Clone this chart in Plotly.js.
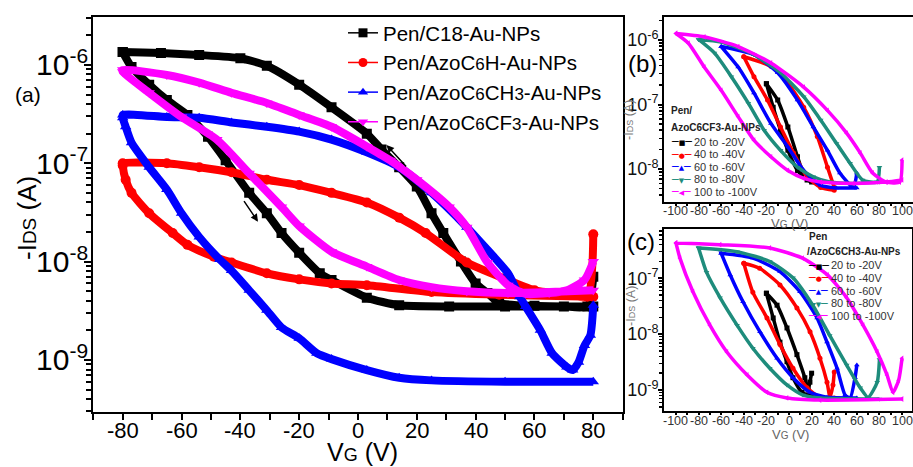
<!DOCTYPE html>
<html><head><meta charset="utf-8">
<script src="https://cdn.plot.ly/plotly-3.0.1.min.js"></script>
<style>html,body{margin:0;padding:0;background:#fff}</style>
</head><body><div id="chart" style="width:913px;height:467px"></div>
<script>
// ================= DATA =================
// Panel (a): transfer curves, VG (V) vs -IDS (A); "up" = high-current branch, "dn" = low-current branch
const c18UpV = [-80,-67,-54,-40,-31,-20,-9,3,8,14,20,25,29,35,40,44,48,60,70,78,80];
const c18UpI = [1.35e-6,1.32e-6,1.26e-6,1.17e-6,9.8e-7,6.3e-7,3.7e-7,2.0e-7,1.38e-7,9.1e-8,5.8e-8,3.1e-8,1.95e-8,1.0e-8,6.0e-9,4.8e-9,3.8e-9,3.55e-9,3.5e-9,3.5e-9,7.0e-9];
const c18DnV = [-80,-77,-71,-65,-58,-51,-45,-37,-31,-26,-20,-13,-9,3,14,31,50,80];
const c18DnI = [1.35e-6,9.5e-7,6.3e-7,4.4e-7,3.1e-7,1.86e-7,1.07e-7,5.0e-8,3.1e-8,1.95e-8,1.23e-8,7.6e-9,6.5e-9,4.3e-9,3.6e-9,3.5e-9,3.5e-9,3.5e-9];

const c6hUpV = [-80,-65,-54,-43,-31,-20,-9,3,14,23,37,51,60,70,78,80];
const c6hUpI = [1.0e-7,1.0e-7,9.1e-8,8.1e-8,6.8e-8,6.0e-8,5.0e-8,4.0e-8,2.8e-8,1.95e-8,9.8e-9,6.5e-9,5.1e-9,4.7e-9,4.4e-9,1.9e-8];
const c6hDnV = [-80,-79,-77,-71,-63,-58,-49,-43,-31,-20,-9,3,25,48,80];
const c6hDnI = [9.5e-8,6.8e-8,5.0e-8,3.1e-8,1.95e-8,1.48e-8,1.12e-8,9.8e-9,7.6e-9,6.6e-9,6.0e-9,5.75e-9,4.9e-9,4.6e-9,4.4e-9];

const ch3UpV = [-80,-65,-54,-43,-31,-20,-9,3,14,25,37,44,51,55,57,62,66,71,73,75,77,79,80];
const ch3UpI = [3.1e-7,2.95e-7,2.9e-7,2.6e-7,2.35e-7,2.1e-7,1.74e-7,1.29e-7,9.1e-8,5.0e-8,2.24e-8,1.32e-8,7.6e-9,4.4e-9,3.5e-9,2.0e-9,1.17e-9,8.5e-10,7.9e-10,9.5e-10,1.4e-9,1.78e-9,3.6e-9];
const ch3DnV = [-80,-79,-77,-71,-65,-60,-54,-47,-43,-37,-31,-26,-20,-14,-9,3,14,25,50,80];
const ch3DnI = [2.9e-7,2.35e-7,1.62e-7,9.1e-8,5.4e-8,3.1e-8,1.78e-8,1.05e-8,8.1e-9,5.1e-9,3.2e-9,2.14e-9,1.66e-9,1.17e-9,1.02e-9,7.9e-10,6.6e-10,6.2e-10,6.0e-10,6.0e-10];

const cf3UpV = [-80,-65,-54,-43,-31,-20,-9,3,11,20,31,37,44,51,57,65,71,77,80];
const cf3UpI = [8.9e-7,7.9e-7,6.6e-7,5.2e-7,4.1e-7,3.1e-7,2.35e-7,1.48e-7,1.07e-7,6.8e-8,3.6e-8,2.24e-8,9.8e-9,5.75e-9,4.7e-9,4.8e-9,5.1e-9,6.5e-9,1.0e-8];
const cf3DnV = [-80,-71,-60,-48,-37,-26,-20,-9,3,14,25,37,51,65,80];
const cf3DnI = [8.5e-7,5.2e-7,2.95e-7,1.74e-7,7.9e-8,3.6e-8,2.3e-8,1.26e-8,8.9e-9,6.5e-9,5.5e-9,5.0e-9,4.8e-9,4.9e-9,5.1e-9];

const mainNames = ['Pen/C18-Au-NPs','Pen/AzoC<span style="font-size:17px">6</span>H-Au-NPs','Pen/AzoC<span style="font-size:17px">6</span>CH<span style="font-size:17px">3</span>-Au-NPs','Pen/AzoC<span style="font-size:17px">6</span>CF<span style="font-size:17px">3</span>-Au-NPs'];

// Panel (b): Pen/AzoC6CF3-Au-NPs, sweep ranges
const bS20UpV = [-20,-10,-1,7.5,12.7,20];
const bS20UpI = [2.1e-7,1.17e-7,4.5e-8,1.55e-8,8.7e-9,6.8e-9];
const bS20DnV = [-20,-14,-7.5,-1,7.5,16,20];
const bS20DnI = [2.1e-7,9.1e-8,4.0e-8,1.95e-8,9.5e-9,6.8e-9,6.3e-9];
const bS40UpV = [-40,-16,-1,13,25,34,40];
const bS40UpI = [5.5e-7,3.9e-7,2.14e-7,9.1e-8,3.2e-8,1.07e-8,5.2e-9];
const bS40DnV = [-40,-31,-19,-7.5,4,16,28,40];
const bS40DnI = [5.5e-7,2.7e-7,1.17e-7,4.5e-8,1.78e-8,7.6e-9,5.2e-9,4.7e-9];
const bS60UpV = [-60,-31,-10,7.5,21.5,34,45,57,60];
const bS60UpI = [7.9e-7,5.9e-7,3.1e-7,1.17e-7,4.5e-8,1.95e-8,8.7e-9,5.2e-9,8.7e-9];
const bS60DnV = [-60,-45,-31,-16,-1,13,28,42,60];
const bS60DnI = [7.9e-7,3.8e-7,1.51e-7,5.1e-8,2.2e-8,9.5e-9,5.6e-9,5.1e-9,5.1e-9];
const bS80UpV = [-80,-60,-31,-7.5,13,28,42,54,65,78,80];
const bS80UpI = [1.02e-6,9.3e-7,5.9e-7,3.1e-7,1.32e-7,5.75e-8,2.5e-8,1.23e-8,6.8e-9,6.3e-9,1.07e-8];
const bS80DnV = [-80,-66,-51,-36,-22,-7.5,7.5,21.5,36,57,80];
const bS80DnI = [1.02e-6,6.3e-7,2.7e-7,1.05e-7,4.0e-8,1.95e-8,1.07e-8,7.6e-9,6.3e-9,6.0e-9,6.3e-9];
const bS100UpV = [-100,-75,-45,-16,13,34,51,63,74,86,98,100];
const bS100UpI = [1.26e-6,1.12e-6,7.9e-7,4.4e-7,1.86e-7,8.1e-8,3.6e-8,1.78e-8,8.7e-9,6.3e-9,6.3e-9,1.38e-8];
const bS100DnV = [-100,-89,-75,-60,-45,-31,-16,-1,13,28,57,86,100];
const bS100DnI = [1.26e-6,8.9e-7,3.8e-7,1.66e-7,6.5e-8,2.8e-8,1.55e-8,9.5e-9,7.2e-9,6.3e-9,6.0e-9,6.3e-9,6.8e-9];

// Panel (c): Pen/AzoC6CH3-Au-NPs, sweep ranges
const cS20UpV = [-20,-10.6,-1.8,7,14,17,18.5,20];
const cS20UpI = [5.4e-8,3.3e-8,1.29e-8,4.3e-9,1.66e-9,1.0e-9,1.38e-9,2.0e-9];
const cS20DnV = [-20,-14,-8,-1.8,3.5,11.5,18.6,20];
const cS20DnI = [5.4e-8,1.95e-8,7.2e-9,3.2e-9,1.66e-9,9.1e-10,8.1e-10,8.1e-10];
const cS40UpV = [-40,-26,-8,7,18.6,27.4,33.6,36.3,38.9,40];
const cS40UpI = [1.86e-7,1.51e-7,7.6e-8,2.95e-8,1.1e-8,3.7e-9,1.38e-9,7.4e-10,1.23e-9,2.1e-9];
const cS40DnV = [-40,-32,-19.5,-8,3.5,16,27.4,40];
const cS40DnI = [1.86e-7,5.6e-8,1.95e-8,6.5e-9,2.45e-9,1.1e-9,7.4e-10,7.2e-10];
const cS60UpV = [-60,-32,-8,9.7,24.8,33.6,42.5,49.6,54,58.4,60];
const cS60UpI = [2.8e-7,2.3e-7,1.32e-7,5.75e-8,1.95e-8,7.2e-9,2.45e-9,8.1e-10,7.2e-10,1.66e-9,2.8e-9];
const cS60DnV = [-60,-52,-40.7,-25.7,-10.6,3.5,18.6,33.6,60];
const cS60DnI = [2.8e-7,1.15e-7,3.8e-8,1.1e-8,3.7e-9,1.66e-9,9.1e-10,7.4e-10,7.2e-10];
const cS80UpV = [-80,-46,-17,3.5,21,36,51,63,70,78,80];
const cS80UpI = [3.5e-7,3.0e-7,2.0e-7,1.02e-7,3.3e-8,9.5e-9,2.8e-9,1.1e-9,7.4e-10,1.38e-9,3.5e-9];
const cS80DnV = [-80,-73,-61,-46,-32,-17,-1.8,12.4,27.4,80];
const cS80DnI = [3.5e-7,1.29e-7,4.5e-8,1.45e-8,5.6e-9,2.45e-9,1.23e-9,8.1e-10,7.2e-10,6.9e-10];
const cS100UpV = [-100,-61,-17,12,34,51,65.5,78,86.7,92,97,100];
const cS100UpI = [4.3e-7,4.0e-7,3.5e-7,2.3e-7,1.15e-7,4.5e-8,1.45e-8,4.8e-9,1.86e-9,9.1e-10,1.5e-9,3.7e-9];
const cS100DnV = [-100,-96.5,-85,-70,-55,-37,-19.5,-1.8,27.4,100];
const cS100DnI = [4.3e-7,2.3e-7,5.75e-8,1.45e-8,4.8e-9,1.86e-9,9.1e-10,7.2e-10,6.6e-10,6.9e-10];

const sweepNames = ['20 to -20V','40 to -40V','60 to -60V','80 to -80V','100 to -100V'];

// Tick labels
const mainXTicks = [-80,-60,-40,-20,0,20,40,60,80];
const mainXTickText = ['-80','-60','-40','-20','0','20','40','60','80'];
const mainXMinor = [-90,-70,-50,-30,-10,10,30,50,70,90];
const mainYTicks = [1e-9,1e-8,1e-7,1e-6];
const mainYTickText = ['10<sup>-9</sup>','10<sup>-8</sup>','10<sup>-7</sup>','10<sup>-6</sup>'];
const insetXTicks = [-100,-80,-60,-40,-20,0,20,40,60,80,100];
const insetXTickText = ['-100','-80','-60','-40','-20','0','20','40','60','80','100'];
const insetXMinor = [-90,-70,-50,-30,-10,10,30,50,70,90];
const bYTicks = [1e-8,1e-7,1e-6];
const bYTickText = ['10<sup>-8</sup>','10<sup>-7</sup>','10<sup>-6</sup>'];
const cYTicks = [1e-9,1e-8,1e-7];
const cYTickText = ['10<sup>-9</sup>','10<sup>-8</sup>','10<sup>-7</sup>'];

// ================= STYLE / BUILD =================
const FONT = 'Arial, "Liberation Sans", sans-serif';
const colors = ['#000000','#ff0000','#0000ff','#1e8c7c','#ff00ff'];
const mainColors = ['#000000','#ff0000','#0000ff','#ff00ff'];
const mainSymbols = ['square','circle','triangle-up','triangle-down'];
const insetSymbols = ['square','circle','triangle-up','triangle-down','triangle-left'];

function minorLog(lo, hi) { // minor tick positions 2..9 x decade
  const out = [];
  for (let e = -11; e <= -4; e++) for (let m = 2; m <= 9; m++) {
    const v = m * Math.pow(10, e); if (v >= lo && v <= hi) out.push(v);
  }
  return out;
}
function loop(upV, upI, dnV, dnI) {
  return { x: upV.slice().reverse().concat(dnV), y: upI.slice().reverse().concat(dnI) };
}

const traces = [];
const mainLoops = [
  loop(c18UpV, c18UpI, c18DnV, c18DnI),
  loop(c6hUpV, c6hUpI, c6hDnV, c6hDnI),
  loop(ch3UpV, ch3UpI, ch3DnV, ch3DnI),
  loop(cf3UpV, cf3UpI, cf3DnV, cf3DnI)
];
mainLoops.forEach((d, i) => {
  traces.push({ type:'scatter', mode:'lines+markers', x:d.x, y:d.y, xaxis:'x', yaxis:'y',
    line:{color:mainColors[i], width:8, shape:'spline', smoothing:0.6}, marker:{symbol:mainSymbols[i], size:10, color:mainColors[i]},
    showlegend:false, hoverinfo:'skip' });
});
// legend entries for panel (a)
mainNames.forEach((n, i) => {
  traces.push({ type:'scatter', mode:'lines+markers', x:[null], y:[null], xaxis:'x', yaxis:'y', name:n,
    line:{color:mainColors[i], width:1.5}, marker:{symbol:mainSymbols[i], size:9, color:mainColors[i]},
    showlegend:true });
});

const bLoops = [
  loop(bS20UpV,bS20UpI,bS20DnV,bS20DnI), loop(bS40UpV,bS40UpI,bS40DnV,bS40DnI),
  loop(bS60UpV,bS60UpI,bS60DnV,bS60DnI), loop(bS80UpV,bS80UpI,bS80DnV,bS80DnI),
  loop(bS100UpV,bS100UpI,bS100DnV,bS100DnI)
];
const cLoops = [
  loop(cS20UpV,cS20UpI,cS20DnV,cS20DnI), loop(cS40UpV,cS40UpI,cS40DnV,cS40DnI),
  loop(cS60UpV,cS60UpI,cS60DnV,cS60DnI), loop(cS80UpV,cS80UpI,cS80DnV,cS80DnI),
  loop(cS100UpV,cS100UpI,cS100DnV,cS100DnI)
];
bLoops.forEach((d, i) => traces.push({ type:'scatter', mode:'lines+markers', x:d.x, y:d.y, xaxis:'x2', yaxis:'y2',
  line:{color:colors[i], width:3.5, shape:'spline', smoothing:0.6}, marker:{symbol:insetSymbols[i], size:5, color:colors[i]}, showlegend:false, hoverinfo:'skip' }));
cLoops.forEach((d, i) => traces.push({ type:'scatter', mode:'lines+markers', x:d.x, y:d.y, xaxis:'x3', yaxis:'y3',
  line:{color:colors[i], width:3.5, shape:'spline', smoothing:0.6}, marker:{symbol:insetSymbols[i], size:5, color:colors[i]}, showlegend:false, hoverinfo:'skip' }));

const W = 913, H = 467;
const px = v => v / W, py = v => 1 - v / H;

function axisBase() {
  return { showline:true, linewidth:2.2, linecolor:'#000', mirror:true, showgrid:false, zeroline:false,
    ticks:'outside', tickcolor:'#000', tickwidth:2, tickangle:0 };
}

// x tick labels are placed as annotations (below) so their distance from the axis matches
const xMain = Object.assign(axisBase(), {
  domain:[px(93.3), px(622.7)], range:[-90,90], anchor:'y',
  tickmode:'array', tickvals:mainXTicks, ticktext:mainXTickText, ticklen:6, showticklabels:false,
  minor:{tickmode:'array', tickvals:mainXMinor, ticks:'outside', ticklen:6, tickwidth:2, tickcolor:'#000', showgrid:false}
});
const yMain = Object.assign(axisBase(), {
  domain:[py(411.7), py(16.7)], type:'log', range:[-9.526,-5.51], anchor:'x',
  tickmode:'array', tickvals:mainYTicks, ticktext:mainYTickText, ticklen:7, tickfont:{size:30, color:'#000'},
  ticklabelstandoff:-10,
  minor:{tickmode:'array', tickvals:minorLog(3e-10, 3e-6), ticks:'outside', ticklen:5, tickwidth:2, tickcolor:'#000', showgrid:false}
});

function insetX(dom, range, anchor) {
  return Object.assign(axisBase(), {
    domain:dom, range:range, anchor:anchor, linewidth:2,
    tickmode:'array', tickvals:insetXTicks, ticktext:insetXTickText, ticklen:2, showticklabels:false,
    minor:{tickmode:'array', tickvals:insetXMinor, ticks:'outside', ticklen:2, tickwidth:2, tickcolor:'#000', showgrid:false}
  });
}
function insetY(dom, range, anchor, tv, tt, lo, hi) {
  return Object.assign(axisBase(), {
    domain:dom, type:'log', range:range, anchor:anchor, linewidth:2,
    tickmode:'array', tickvals:tv, ticktext:tt, ticklen:4, tickfont:{size:18, color:'#111'},
    ticklabelstandoff:-4,
    minor:{tickmode:'array', tickvals:minorLog(lo, hi), ticks:'outside', ticklen:3, tickwidth:1.5, tickcolor:'#000', showgrid:false}
  });
}

function label(x, y, text, size, xa, color) {
  return {xref:'paper', yref:'paper', x:px(x), y:py(y), xanchor:xa || 'center', yanchor:'middle', text:text,
    showarrow:false, font:{size:size, color:color || '#000'}};
}
const insetVG = 'V<span style="font-size:10px">G</span> (V)';
const insetID = '-I<span style="font-size:9px">DS</span> (A)';
const annotations = [
  label(28, 95, '(a)', 21),
  label(642, 63, '(b)', 24),
  label(641, 241, '(c)', 24),
  // axis titles
  label(362, 452, 'V<span style="font-size:18px">G</span> (V)', 25),
  Object.assign(label(27, 218, '-I<span style="font-size:19px">DS</span> (A)', 26), {textangle:-90}),
  label(789, 223.5, insetVG, 13, 'center', '#666'),
  label(790, 434.5, insetVG, 13, 'center', '#666'),
  Object.assign(label(629, 120, insetID, 12.5, 'center', '#777'), {textangle:-90}),
  Object.assign(label(631, 306, insetID, 12.5, 'center', '#777'), {textangle:-90}),
  // sweep-direction arrows in panel (a)
  {xref:'x', yref:'y', x:-34, y:-7.594, ax:-15, ay:-22, showarrow:true, arrowhead:2, arrowsize:1, arrowwidth:1.5, arrowcolor:'#000', text:''},
  {xref:'x', yref:'y', x:9.7, y:-6.814, ax:21, ay:23, showarrow:true, arrowhead:2, arrowsize:1, arrowwidth:1.5, arrowcolor:'#000', text:''},
  // inset legend titles
  label(669, 110, '<b>Pen/</b>', 10, 'left', '#222'),
  label(669, 127, '<b>AzoC6CF3-Au-NPs</b>', 10, 'left', '#222'),
  label(807, 237, '<b>Pen</b>', 10, 'left', '#222'),
  label(805, 252, '<b>/AzoC6CH3-Au-NPs</b>', 10, 'left', '#222')
];
// x-axis tick labels
mainXTicks.forEach((v, i) => annotations.push({xref:'x', yref:'paper', x:v, y:py(430), xanchor:'center', yanchor:'middle',
  text:mainXTickText[i], showarrow:false, font:{size:22, color:'#000'}}));
insetXTicks.forEach((v, i) => {
  annotations.push({xref:'x2', yref:'paper', x:v, y:py(211), xanchor:'center', yanchor:'middle',
    text:insetXTickText[i], showarrow:false, font:{size:12.5, color:'#333'}});
  annotations.push({xref:'x3', yref:'paper', x:v, y:py(421), xanchor:'center', yanchor:'middle',
    text:insetXTickText[i], showarrow:false, font:{size:12.5, color:'#333'}});
});
// inset legends
const glyphs = ['■','●','▲','▼','◀'];
const bRows = [141.7,154,166.7,179.3,191.7];
const cRows = [265,277.7,290.7,303.3,315.7];
sweepNames.forEach((n, i) => {
  const sym = '<span style="font-family:DejaVu Sans">─<span style="font-size:7px">' + glyphs[i] + '</span>─</span>';
  [[669, 692, bRows[i]], [806, 829, cRows[i]]].forEach(([sx, tx, ry]) => {
    annotations.push(label(sx, ry, sym, 11, 'left', colors[i]));
    annotations.push(label(tx, ry, n, 11, 'left', '#333'));
  });
});

const layout = {
  width:W, height:H, margin:{l:0, r:0, t:0, b:0}, paper_bgcolor:'#fff', plot_bgcolor:'#fff',
  font:{family:FONT, color:'#000'},
  showlegend:true,
  legend:{x:px(343), y:py(13), xanchor:'left', yanchor:'top', bgcolor:'rgba(0,0,0,0)', borderwidth:0,
    font:{size:20.5, color:'#000'}, tracegroupgap:0},
  xaxis:xMain, yaxis:yMain,
  xaxis2:insetX([px(664), 1.0], [-110.6, 109.7], 'y2'),
  yaxis2:insetY([py(202), py(16.7)], [-8.51, -5.64], 'x2', bYTicks, bYTickText, 3e-9, 2.3e-6),
  xaxis3:insetX([px(664), px(912)], [-110.6, 108.8], 'y3'),
  yaxis3:insetY([py(411), py(229)], [-9.376, -6.117], 'x3', cYTicks, cYTickText, 4e-10, 8e-7),
  annotations:annotations
};

Plotly.newPlot('chart', traces, layout, {displayModeBar:false, staticPlot:true});
</script>
</body></html>
